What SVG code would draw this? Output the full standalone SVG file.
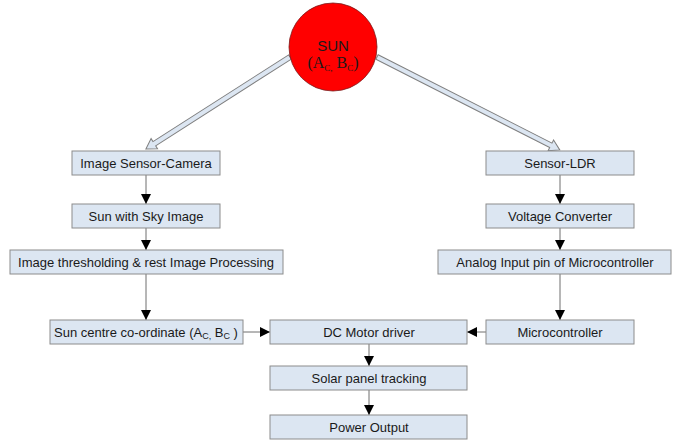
<svg xmlns="http://www.w3.org/2000/svg" width="673" height="441" viewBox="0 0 673 441">
  <style>
    .box { fill: #dce6f2; stroke: #8c8c8c; stroke-width: 1; }
    .lbl { font-family: "Liberation Sans", Arial, sans-serif; font-size: 13px; fill: #1a1a1a; text-anchor: middle; }
    .sub { font-size: 9px; }
    .link { stroke: #6e6e6e; stroke-width: 1; fill: none; marker-end: url(#tip); }
    .ray { fill: #dce6f2; stroke: #7f7f7f; stroke-width: 1; stroke-linejoin: miter; }
  </style>
  <defs>
    <marker id="tip" viewBox="0 0 10 10" refX="10" refY="5" markerWidth="10" markerHeight="10" markerUnits="userSpaceOnUse" orient="auto">
      <path d="M0,0 L10,5 L0,10 z" fill="#000"/>
    </marker>
  </defs>

  <rect width="673" height="441" fill="#ffffff"/>

  <!-- hollow rays from the sun -->
  <g id="connectors">
    <g transform="translate(290,57) rotate(147.43)">
      <polygon class="ray" points="0,-2.5 161,-2.5 161,-6 171,0 161,6 161,2.5 0,2.5"/>
    </g>
    <g transform="translate(377,57) rotate(26.94)">
      <polygon class="ray" points="0,-2.5 195,-2.5 195,-6 205,0 195,6 195,2.5 0,2.5"/>
    </g>

    <!-- camera branch -->
    <line class="link" x1="146" y1="175" x2="146" y2="204"/>
    <line class="link" x1="146" y1="228" x2="146" y2="250"/>
    <line class="link" x1="146" y1="274" x2="146" y2="320"/>
    <!-- LDR branch -->
    <line class="link" x1="560" y1="175" x2="560" y2="204"/>
    <line class="link" x1="560" y1="228" x2="560" y2="250"/>
    <line class="link" x1="560" y1="274" x2="560" y2="320"/>
    <!-- into the motor driver -->
    <line class="link" x1="243" y1="332" x2="270" y2="332"/>
    <line class="link" x1="486" y1="332" x2="467" y2="332"/>
    <!-- output chain -->
    <line class="link" x1="369" y1="344" x2="369" y2="366"/>
    <line class="link" x1="369" y1="390" x2="369" y2="415"/>
  </g>

  <g id="sun">
    <circle cx="333" cy="47" r="44" fill="#ff0000" stroke="#7a1a1a" stroke-width="0.8"/>
    <text class="lbl" x="333" y="51" style="font-size:15px">SUN</text>
    <text x="333" y="68" text-anchor="middle" font-family="Liberation Serif, Times New Roman, serif" font-size="16" fill="#1a1a1a">(A<tspan class="sub" dy="3">C,</tspan><tspan dy="-3"> B</tspan><tspan class="sub" dy="3">C</tspan><tspan dy="-3">)</tspan></text>
  </g>

  <g id="camera">
    <rect class="box" x="72" y="151" width="148" height="24"/>
    <text class="lbl" x="146" y="168">Image Sensor-Camera</text>
  </g>
  <g id="sky-image">
    <rect class="box" x="72" y="204" width="148" height="24"/>
    <text class="lbl" x="146" y="221">Sun with Sky Image</text>
  </g>
  <g id="processing">
    <rect class="box" x="10" y="250" width="273" height="24"/>
    <text class="lbl" x="146" y="267">Image thresholding &amp; rest Image Processing</text>
  </g>
  <g id="centre">
    <rect class="box" x="50" y="320" width="193" height="24"/>
    <text class="lbl" x="146" y="337">Sun centre co-ordinate (A<tspan class="sub" dy="2">C,</tspan><tspan dy="-2"> B</tspan><tspan class="sub" dy="2">C</tspan><tspan dy="-2"> )</tspan></text>
  </g>

  <g id="ldr">
    <rect class="box" x="486" y="151" width="148" height="24"/>
    <text class="lbl" x="560" y="168">Sensor-LDR</text>
  </g>
  <g id="converter">
    <rect class="box" x="486" y="204" width="148" height="24"/>
    <text class="lbl" x="560" y="221">Voltage Converter</text>
  </g>
  <g id="analog-pin">
    <rect class="box" x="438" y="250" width="233" height="24"/>
    <text class="lbl" x="555" y="267">Analog Input pin of Microcontroller</text>
  </g>
  <g id="mcu">
    <rect class="box" x="486" y="320" width="148" height="24"/>
    <text class="lbl" x="560" y="337">Microcontroller</text>
  </g>

  <g id="motor-driver">
    <rect class="box" x="270" y="320" width="197" height="24"/>
    <text class="lbl" x="369" y="337">DC Motor driver</text>
  </g>
  <g id="tracking">
    <rect class="box" x="270" y="366" width="197" height="24"/>
    <text class="lbl" x="369" y="383">Solar panel tracking</text>
  </g>
  <g id="power">
    <rect class="box" x="270" y="415" width="197" height="24"/>
    <text class="lbl" x="369" y="432">Power Output</text>
  </g>
</svg>
